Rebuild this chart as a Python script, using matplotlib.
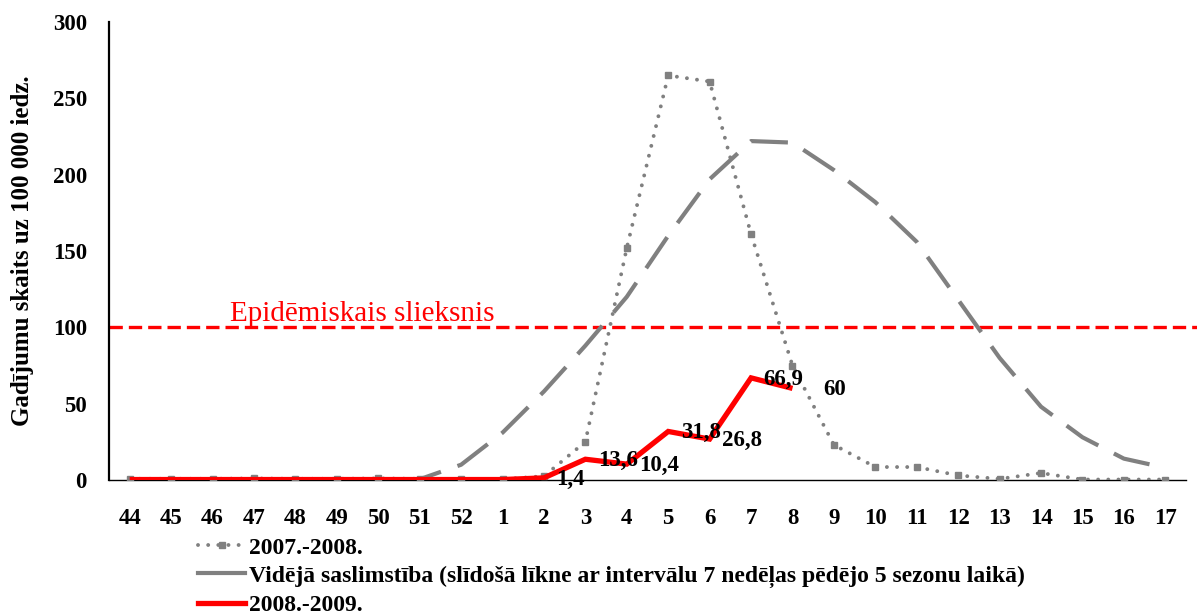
import matplotlib
matplotlib.use("Agg")
import matplotlib.pyplot as plt
from matplotlib.lines import Line2D

plt.rcParams['font.family'] = ['Liberation Serif', 'DejaVu Serif']

weeks = ['44', '45', '46', '47', '48', '49', '50', '51', '52', '1', '2', '3', '4',
         '5', '6', '7', '8', '9', '10', '11', '12', '13', '14', '15', '16', '17']

season_0708 = [0.8, 0.8, 0.8, 1.0, 0.8, 0.8, 1.0, 0.8, 0.5, 0.5, 2.5, 25, 152,
               265, 261, 161, 75, 23, 8.5, 8.5, 3, 0.7, 4.6, 0.3, 0.3, 0.3]

average = [0.5, 0.5, 0.5, 0.5, 0.5, 0.5, 0.5, 0.5, 10, 31, 58, 88, 120,
           160, 197, 222, 221, 203, 182, 156, 118, 80, 48, 28, 14, 8]

season_0809 = [0.3, 0.3, 0.3, 0.3, 0.3, 0.3, 0.3, 0.3, 0.3, 0.3, 1.4, 13.6, 10.4,
               31.8, 26.8, 66.9, 60]

labels_0809 = {10: '1,4', 11: '13,6', 12: '10,4', 13: '31,8', 14: '26,8', 15: '66,9', 16: '60'}

threshold = 100
threshold_label = 'Epidēmiskais slieksnis'
legend_labels = ['2007.-2008.',
                 'Vidējā saslimstība (slīdošā līkne ar intervālu 7 nedēļas pēdējo 5 sezonu laikā)',
                 '2008.-2009.']
ylabel = 'Gadījumu skaits uz 100 000 iedz.'

W, H = 1197, 615
fig = plt.figure(figsize=(W / 100, H / 100), dpi=100)
ax_left, ax_right, ax_bottom, ax_top = 109, 1186, 480, 22
ax = fig.add_axes([ax_left / W, 1 - ax_bottom / H, (ax_right - ax_left) / W, (ax_bottom - ax_top) / H])

gray = '#808080'
red = '#FF0000'
x = list(range(len(weeks)))

ax.axhline(threshold, xmin=0, xmax=(W - ax_left) / (ax_right - ax_left), color=red,
           lw=2.4, ls=(0, (4, 1.8)), clip_on=False, zorder=2)

ax.plot(x, average, color=gray, lw=3.0, ls=(0, (9, 4.2)), dash_capstyle='butt', zorder=3)
ax.plot(x, season_0708, color=gray, lw=2.8, ls=(0, (0.01, 2.6)), dash_capstyle='round', zorder=3)
ax.plot(x, season_0708, color=gray, lw=0, marker='s', ms=4.5, zorder=3)
x09 = x[:len(season_0809)]
ax.plot(x09, season_0809, color=red, lw=3.8, solid_capstyle='butt', solid_joinstyle='miter', zorder=4)

for i, txt in labels_0809.items():
    dx = 22 if i == 16 else 9
    ax.annotate(txt, (x[i], season_0809[i]), xytext=(dx, -1), textcoords='offset points',
                ha='left', va='center', fontsize=16.5, fontweight='bold', color='black', zorder=5)

ax.text(2.42, 104, threshold_label, color=red, fontsize=21, ha='left', va='baseline', zorder=5)

ax.set_xlim(-0.5, len(weeks) - 0.5)
ax.set_ylim(0, 300)
ax.set_xticks(x)
ax.set_xticklabels(weeks)
ax.set_yticks(range(0, 301, 50))
ax.tick_params(axis='both', length=0, labelsize=16.5)
ax.tick_params(axis='y', pad=16)
ax.tick_params(axis='x', pad=20)
for lab in ax.get_xticklabels() + ax.get_yticklabels():
    lab.set_fontweight('bold')

for s in ['top', 'right']:
    ax.spines[s].set_visible(False)
ax.spines['left'].set_linewidth(1.6)
ax.spines['bottom'].set_linewidth(1.0)
ax.spines['left'].set_color('black')
ax.spines['bottom'].set_color('black')

fig.text(23 / W, 1 - 251 / H, ylabel, rotation=90, ha='center', va='center',
         fontsize=18, fontweight='bold')

handles = [
    Line2D([], [], color=gray, lw=2.8, ls=(0, (0.01, 2.6)), dash_capstyle='round',
           marker='s', ms=4.5, markevery=[1]),
    Line2D([], [], color=gray, lw=3.0),
    Line2D([], [], color=red, lw=3.8),
]
fig.legend(handles, legend_labels, loc='upper left', bbox_to_anchor=(198 / W, 1 - 537 / H),
           frameon=False, handlelength=2.0, handletextpad=0.15, labelspacing=0.28,
           borderpad=0, borderaxespad=0, prop={'weight': 'bold', 'size': 17})

fig.savefig('out.png', dpi=100)
